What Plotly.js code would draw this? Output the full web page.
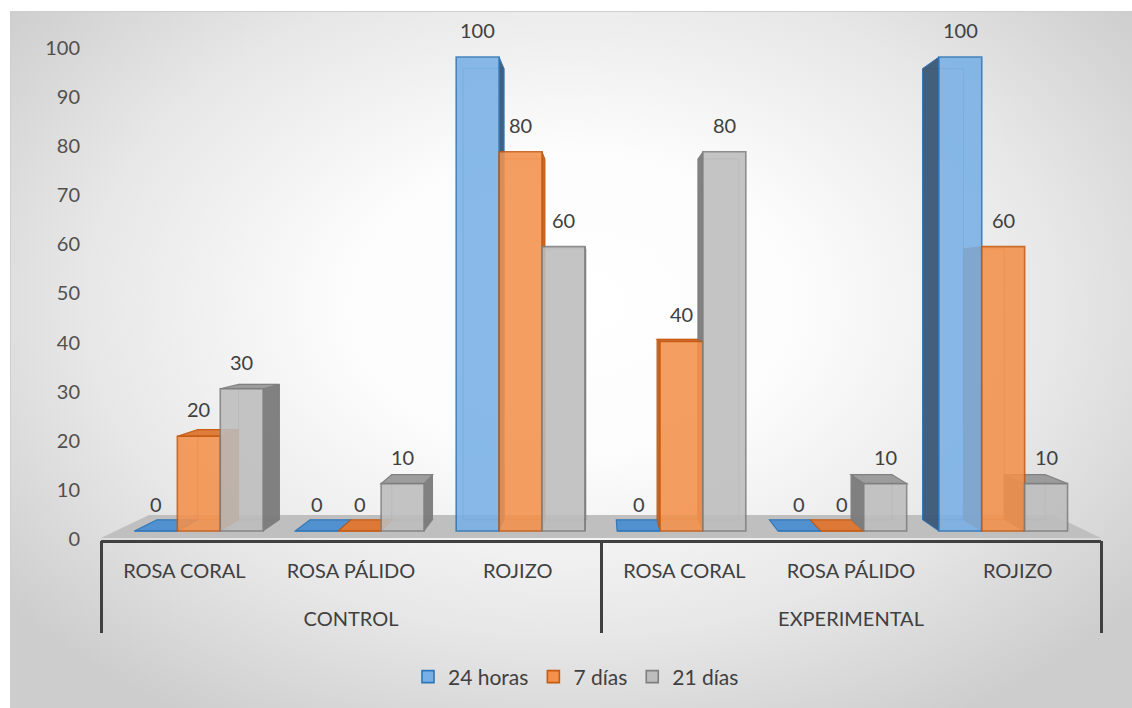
<!DOCTYPE html>
<html>
<head>
<meta charset="utf-8">
<script src="https://cdn.plot.ly/plotly-3.0.1.min.js"></script>
<style>
  html, body { margin: 0; padding: 0; background: #ffffff; }
  #wrap { position: relative; width: 1132px; height: 708px; overflow: hidden; background: #ffffff; }
  #bg {
    position: absolute; left: 10px; top: 11px; right: 0; bottom: 0;
    border-top: 1px solid #cfcfcf; border-left: 1px solid #cfcfcf;
    background: radial-gradient(ellipse 64% 70% at 50% 42%, #ffffff 0%, #fcfcfc 32%, #e7e7e7 68%, #cdcdcd 100%);
  }
  #chart { position: absolute; left: 0; top: 0; width: 1132px; height: 708px; }
</style>
</head>
<body>
<div id="wrap">
  <div id="bg"></div>
  <div id="chart"></div>
</div>
<script>
// Two-level categories (group / colour)
const grupos = ['CONTROL', 'CONTROL', 'CONTROL', 'EXPERIMENTAL', 'EXPERIMENTAL', 'EXPERIMENTAL'];
const coloraciones = ['ROSA CORAL', 'ROSA PÁLIDO', 'ROJIZO', 'ROSA CORAL', 'ROSA PÁLIDO', 'ROJIZO'];

// Series values (%)
const horas24 = [0, 0, 100, 0, 0, 100];
const dias7 = [20, 0, 80, 40, 0, 60];
const dias21 = [30, 10, 60, 80, 10, 10];

const nombresSeries = ['24 horas', '7 días', '21 días'];
const marcasY = [0, 10, 20, 30, 40, 50, 60, 70, 80, 90, 100];

// Styling per series
const estilos = [
  { fill: '#78b0e6', line: '#2e75b6', side: '#3b5877', top: '#4d8fd0' },
  { fill: '#f4914c', line: '#c55a11', side: '#c4611d', top: '#de7630' },
  { fill: '#bdbdbd', line: '#7f7f7f', side: '#7b7b7b', top: '#999999' }
];

const FONT = 'Lato, "Open Sans", sans-serif';
const valores = [horas24, dias7, dias21];
const posiciones = grupos.map((g, i) => i);
const anchoBarra = 0.8 / 3;

// group label positions and the boundaries between groups
const nombresGrupo = [...new Set(grupos)];
const centrosGrupo = nombresGrupo.map(g => {
  const idx = posiciones.filter(i => grupos[i] === g);
  return idx.reduce((a, b) => a + b, 0) / idx.length;
});
const limitesGrupo = [-0.5];
nombresGrupo.forEach(g => limitesGrupo.push(Math.max(...posiciones.filter(i => grupos[i] === g)) + 0.5));

// Perspective of the 3D look: vanishing point in data units and depth factor
const VX = 2.5, VY = 49.2, PROF = 0.048, PROF_SUELO = 0.096;
const back = (x, y, k) => [x + k * (VX - x), y + k * (VY - y)];
const ruta = pts => 'M ' + pts.map(p => p[0].toFixed(4) + ' ' + p[1].toFixed(4)).join(' L ') + ' Z';

const rangoX = [-0.608, 5.608];
const rangoY = [-1.899, 109.916];

const shapes = [];
// floor plane
const sueloY = -1.477;
const f0 = [rangoX[0], sueloY], f1 = [rangoX[1], sueloY];
shapes.push({
  type: 'path', xref: 'x', yref: 'y', layer: 'below',
  path: ruta([f0, f1, back(f1[0], f1[1], PROF_SUELO), back(f0[0], f0[1], PROF_SUELO)]),
  fillcolor: '#bfbfbf', line: { width: 0 }
});

// back edges, side faces and top faces of each bar
const caras = [];
valores.forEach((serie, s) => {
  const est = estilos[s];
  serie.forEach((v, i) => {
    const xc = posiciones[i] + (s - 1) * anchoBarra;
    const x0 = xc - anchoBarra / 2, x1 = xc + anchoBarra / 2;
    const b00 = back(x0, 0, PROF), b11 = back(x1, v, PROF);
    if (v > 0) {
      shapes.push({
        type: 'rect', xref: 'x', yref: 'y', layer: 'below',
        x0: b00[0], x1: b11[0], y0: b00[1], y1: b11[1],
        line: { color: est.line, width: 1 }, fillcolor: 'rgba(0,0,0,0)', opacity: 0.6
      });
      const xs = x1 < VX ? x1 : x0;
      caras.push({
        type: 'path', xref: 'x', yref: 'y', layer: 'below',
        path: ruta([[xs, 0], [xs, v], back(xs, v, PROF), back(xs, 0, PROF)]),
        fillcolor: est.side, line: { color: est.line, width: 1 }, opacity: 0.95
      });
    }
    if (v < VY) {
      caras.push({
        type: 'path', xref: 'x', yref: 'y', layer: 'below',
        path: ruta([[x0, v], [x1, v], back(x1, v, PROF), back(x0, v, PROF)]),
        fillcolor: est.top, line: { color: est.line, width: 1.2 }, opacity: 0.95
      });
    }
  });
});
caras.forEach(c => shapes.push(c));

// value labels above each bar
const annotations = [];
valores.forEach((serie, s) => {
  serie.forEach((v, i) => {
    annotations.push({
      x: posiciones[i] + (s - 1) * anchoBarra, y: v, xref: 'x', yref: 'y',
      text: String(v), showarrow: false, yshift: 27, yanchor: 'middle',
      font: { family: FONT, size: 20, color: '#404040' }
    });
  });
});

const traces = valores.map((serie, s) => ({
  type: 'bar', name: nombresSeries[s], x: posiciones, y: serie,
  xaxis: 'x', yaxis: 'y',
  marker: { color: estilos[s].fill, opacity: 0.88, line: { color: estilos[s].line, width: 1.6 } },
  hoverinfo: 'skip'
}));

// carrier traces for the category axes
traces.push({
  type: 'scatter', mode: 'markers', x: posiciones, y: posiciones.map(() => 0),
  xaxis: 'x2', yaxis: 'y2', marker: { opacity: 0 }, showlegend: false, hoverinfo: 'skip'
});
traces.push({
  type: 'scatter', mode: 'markers', x: posiciones, y: posiciones.map(() => 0),
  xaxis: 'x3', yaxis: 'y2', marker: { opacity: 0 }, showlegend: false, hoverinfo: 'skip'
});

const layout = {
  width: 1132, height: 708, autosize: false,
  margin: { l: 101, r: 31, t: 10, b: 168 },
  paper_bgcolor: 'rgba(0,0,0,0)', plot_bgcolor: 'rgba(0,0,0,0)',
  barmode: 'group', bargap: 0.2, bargroupgap: 0,
  font: { family: FONT, size: 20, color: '#404040' },
  xaxis: { range: rangoX, visible: false, fixedrange: true },
  yaxis: { range: rangoY, visible: false, fixedrange: true },
  // colour labels along the axis line
  xaxis2: {
    overlaying: 'x', anchor: 'y2', side: 'bottom',
    range: [-0.5, 5.5], tickvals: posiciones, ticktext: coloraciones,
    showline: true, linecolor: '#404040', linewidth: 3,
    showgrid: false, zeroline: false, ticks: '', ticklabelstandoff: 11,
    tickfont: { family: FONT, size: 20, color: '#404040' }
  },
  // group labels and the divider lines between groups
  xaxis3: {
    overlaying: 'x', anchor: 'y2', side: 'bottom',
    range: [-0.5, 5.5], tickvals: centrosGrupo, ticktext: nombresGrupo,
    showline: false, showgrid: false, zeroline: false, ticks: '', ticklabelstandoff: 65,
    minor: { tickvals: limitesGrupo, ticks: 'outside', ticklen: 92, tickwidth: 3, tickcolor: '#404040' },
    tickfont: { family: FONT, size: 20, color: '#404040' }
  },
  yaxis2: {
    overlaying: 'y', side: 'left', range: [-0.2, 107.71],
    tickvals: marcasY, ticks: '', showgrid: false, zeroline: false, showline: false,
    ticklabelstandoff: 20,
    tickfont: { family: FONT, size: 20, color: '#505050' }
  },
  legend: {
    orientation: 'h', x: 0.475, xanchor: 'center', y: -0.2585, yanchor: 'middle',
    font: { family: FONT, size: 21, color: '#404040' }, bgcolor: 'rgba(0,0,0,0)'
  },
  shapes: shapes,
  annotations: annotations
};

Plotly.newPlot('chart', traces, layout, { displayModeBar: false, staticPlot: true });
</script>
</body>
</html>
